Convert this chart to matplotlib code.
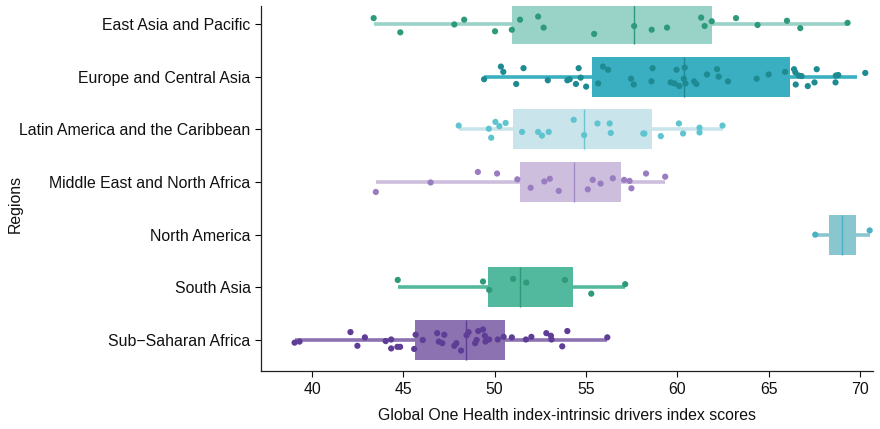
import matplotlib

matplotlib.use("Agg")
import matplotlib.pyplot as plt

plt.rcParams["font.family"] = ["Liberation Sans", "DejaVu Sans"]

regions = [
    "East Asia and Pacific",
    "Europe and Central Asia",
    "Latin America and the Caribbean",
    "Middle East and North Africa",
    "North America",
    "South Asia",
    "Sub\u2212Saharan Africa",
]

# box statistics
box_q1 = [50.94, 55.35, 51.03, 51.39, 68.31, 49.61, 45.63]
box_med = [57.64, 60.36, 54.90, 54.33, 69.04, 51.37, 48.44]
box_q3 = [61.89, 66.17, 58.63, 56.90, 69.81, 54.28, 50.54]
whisker_lo = [43.37, 49.42, 48.03, 43.49, 67.56, 44.69, 39.08]
whisker_hi = [69.30, 69.83, 62.48, 59.34, 70.54, 57.15, 56.17]

# country scores (x) and vertical jitter (fraction of a row) per region
scores_eap = [43.37, 44.83, 47.79, 48.33, 50.02, 50.94, 51.39, 52.38, 52.68, 55.45, 57.64,
              58.60, 59.44, 61.31, 61.50, 61.89, 63.22, 64.40, 66.01, 66.74, 69.33]
jitter_eap = [-0.11, 0.16, 0.01, -0.08, 0.14, 0.11, -0.08, -0.14, 0.07, 0.19, 0.04,
              0.11, 0.07, -0.12, 0.04, -0.05, -0.11, 0.02, -0.06, 0.08, -0.02]

scores_eca = [50.34, 50.47, 51.58, 49.42, 51.18, 52.91, 53.98, 54.11, 54.45, 54.60, 54.71,
              55.01, 55.67, 55.93, 56.21, 57.47, 57.62, 58.59, 58.65, 59.64, 59.85, 59.96,
              60.11, 60.36, 60.41, 60.45, 60.92, 61.05, 61.63, 62.18, 62.27, 62.78, 64.35,
              65.01, 65.91, 66.40, 66.47, 66.49, 66.66, 66.81, 67.15, 67.52, 67.64, 68.67,
              68.69, 68.82, 70.30]
jitter_eca = [-0.19, -0.09, -0.16, 0.05, 0.14, 0.07, 0.07, 0.05, 0.14, -0.16, 0.02,
              0.19, 0.13, -0.19, -0.13, 0.04, 0.15, 0.09, -0.16, 0.11, 0.13, -0.13,
              0.18, 0.04, -0.17, 0.13, 0.09, 0.14, -0.04, -0.14, 0.00, 0.09, 0.04,
              -0.04, -0.09, -0.14, -0.08, 0.15, -0.02, -0.01, 0.18, 0.11, -0.14, 0.11,
              -0.02, -0.03, -0.07]

scores_lac = [48.03, 49.68, 49.81, 50.04, 50.26, 50.60, 51.50, 52.38, 52.59, 52.96, 54.33,
              54.90, 55.63, 56.30, 56.36, 58.14, 58.20, 59.10, 60.09, 60.32, 61.22, 61.22,
              62.48]
jitter_lac = [-0.07, -0.01, 0.16, -0.14, -0.06, -0.12, 0.05, 0.05, 0.12, 0.05, -0.18,
              0.11, -0.11, -0.11, 0.07, 0.08, 0.08, 0.13, -0.11, 0.08, -0.03, 0.06,
              -0.07]

scores_mena = [43.49, 46.49, 49.08, 50.13, 51.24, 51.97, 52.72, 53.02, 53.51, 55.10, 55.37,
               55.80, 56.47, 57.09, 57.39, 57.49, 58.29, 59.34]
jitter_mena = [0.19, 0.01, -0.19, -0.16, -0.05, 0.11, -0.01, -0.06, 0.17, 0.14, -0.04,
               0.03, -0.07, -0.04, -0.02, 0.12, -0.16, -0.10]

scores_na = [67.56, 70.54]
jitter_na = [0.00, -0.08]

scores_sa = [44.69, 49.36, 49.70, 51.01, 51.73, 53.85, 55.29, 57.15]
jitter_sa = [-0.14, -0.11, 0.05, -0.16, -0.09, -0.14, 0.12, -0.06]

scores_ssa = [39.04, 39.31, 42.10, 42.48, 42.89, 44.03, 44.33, 44.33, 44.67, 44.82, 45.59,
              45.67, 46.06, 46.85, 46.94, 47.13, 47.24, 47.79, 47.90, 48.16, 48.46, 48.57,
              48.93, 49.01, 49.10, 49.36, 49.46, 49.49, 49.70, 50.17, 50.49, 50.94, 51.71,
              52.01, 52.83, 53.08, 53.11, 53.70, 53.98, 56.17]
jitter_ssa = [0.05, 0.03, -0.15, 0.11, -0.05, 0.02, -0.01, 0.16, 0.13, 0.13, 0.17,
              -0.10, 0.00, -0.13, 0.03, 0.06, -0.10, 0.11, 0.06, 0.20, -0.09, -0.15,
              0.06, 0.00, -0.17, -0.20, -0.08, 0.03, -0.01, -0.01, -0.06, -0.05, -0.01,
              -0.06, -0.13, -0.08, -0.01, 0.12, -0.17, -0.05]

scores = [scores_eap, scores_eca, scores_lac, scores_mena, scores_na, scores_sa, scores_ssa]
jitters = [jitter_eap, jitter_eca, jitter_lac, jitter_mena, jitter_na, jitter_sa, jitter_ssa]

box_colors = ["#99D3C7", "#3AAFC2", "#C9E4EA", "#CDBEDE", "#89C6D0", "#52B99E", "#8D72B2"]
point_colors = ["#2E9A7C", "#1E8A92", "#5EC4D0", "#9A7CC0", "#4AB2C2", "#2E9A7A", "#5E3D96"]
median_colors = ["#2E9A7C", "#1E8A92", "#6CC6D2", "#A48BC6", "#4AB2C2", "#2E9A7A", "#5E3D96"]

fig = plt.figure(figsize=(8.8, 4.29), dpi=100)
ax = fig.add_axes([0.2966, 0.135, 0.696, 0.851])

positions = list(range(len(regions)))
for i, pos in enumerate(positions):
    stats = [{
        "q1": box_q1[i], "med": box_med[i], "q3": box_q3[i],
        "whislo": whisker_lo[i], "whishi": whisker_hi[i], "fliers": [],
    }]
    ax.bxp(
        stats,
        positions=[pos],
        vert=False,
        widths=0.76,
        patch_artist=True,
        showcaps=False,
        boxprops=dict(facecolor=box_colors[i], edgecolor="none", linewidth=0),
        whiskerprops=dict(color=box_colors[i], linewidth=2.6, solid_capstyle="butt"),
        medianprops=dict(color=median_colors[i], linewidth=1.0),
        zorder=2,
    )
    ys = [pos + j for j in jitters[i]]
    ax.scatter(scores[i], ys, s=20, color=point_colors[i], edgecolors="none", zorder=3)

fs = 11.4
ax.set_yticks(positions)
ax.set_yticklabels(regions, fontsize=fs, color="#111111")
ax.set_ylim(6.59, -0.34)
ax.set_xlim(37.2, 70.75)
ax.set_xticks([40, 45, 50, 55, 60, 65, 70])
ax.tick_params(axis="x", labelsize=fs, colors="#111111", length=4, width=0.8)
ax.tick_params(axis="y", length=4, width=0.8)
ax.set_xlabel("Global One Health index-intrinsic drivers index scores", fontsize=fs, color="#111111", labelpad=8)
ax.set_ylabel("Regions", fontsize=fs, color="#111111")
ax.yaxis.set_label_coords(-0.389, 0.457)

for side in ("top", "right"):
    ax.spines[side].set_visible(False)
for side in ("left", "bottom"):
    ax.spines[side].set_linewidth(0.9)
    ax.spines[side].set_color("#222222")

fig.savefig("out.png", dpi=100)
